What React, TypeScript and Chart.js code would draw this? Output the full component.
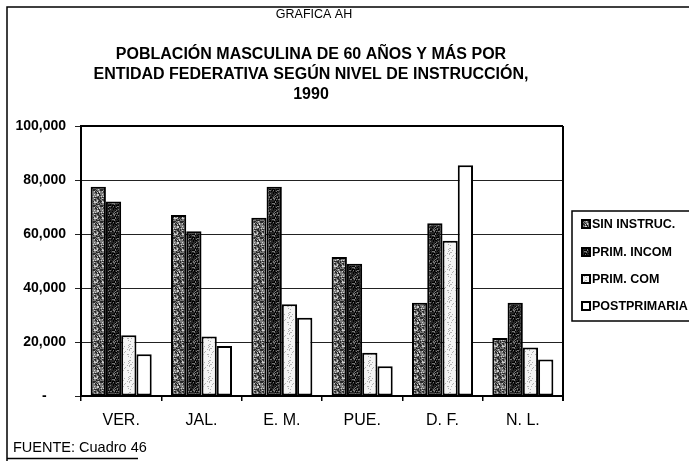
import { useEffect, useRef } from 'react';
import { Chart, registerables } from 'chart.js';
Chart.register(...registerables);

const categories = ['VER.', 'JAL.', 'E. M.', 'PUE.', 'D. F.', 'N. L.'];
const seriesLabels = ['SIN INSTRUC.', 'PRIM. INCOM', 'PRIM. COM', 'POSTPRIMARIA'];
const sinInstruc = [77500, 67000, 66000, 51500, 34500, 21500];
const primIncom = [72000, 61000, 77500, 49000, 64000, 34500];
const primCom = [22500, 22000, 34000, 16000, 57500, 18000];
const postprimaria = [15500, 18500, 29000, 11000, 85500, 13500];
const yMax = 100000;
const yStep = 20000;

const supTitle = 'GRAFICA AH';
const titleLines = [
  'POBLACIÓN MASCULINA DE 60 AÑOS Y MÁS POR',
  'ENTIDAD FEDERATIVA SEGÚN NIVEL DE INSTRUCCIÓN,',
  '1990',
];
const sourceNote = 'FUENTE: Cuadro 46';

const FONT = '"Liberation Sans", Arial, sans-serif';

function hash(x: number, y: number, s: number) {
  let h = (x * 374761393 + y * 668265263 + s * 2246822519) | 0;
  h = (h ^ (h >>> 13)) * 1274126177;
  h = h ^ (h >>> 16);
  return ((h >>> 0) % 1000) / 1000;
}

function makePattern(base: string, dots: { color: string; p: number }[], seed: number) {
  const c = document.createElement('canvas');
  c.width = 8;
  c.height = 16;
  const g = c.getContext('2d')!;
  g.fillStyle = base;
  g.fillRect(0, 0, 8, 16);
  for (let x = 0; x < 8; x++) {
    for (let y = 0; y < 16; y++) {
      const r = hash(x, y, seed);
      let acc = 0;
      for (const d of dots) {
        acc += d.p;
        if (r < acc) {
          g.fillStyle = d.color;
          g.fillRect(x, y, 1, 1);
          break;
        }
      }
    }
  }
  const ctx = document.createElement('canvas').getContext('2d')!;
  return ctx.createPattern(c, 'repeat')!;
}

export default function App() {
  const ref = useRef<HTMLCanvasElement>(null);
  useEffect(() => {
    document.body.style.margin = '0';
    const canvas = ref.current!;
    const fills = [
      makePattern('#7a7a7a', [{ color: '#2a2a2a', p: 0.32 }, { color: '#d0d0d0', p: 0.2 }], 3),
      makePattern('#262626', [{ color: '#777', p: 0.12 }, { color: '#000', p: 0.3 }], 7),
      makePattern('#f4f4f4', [{ color: '#b0b0b0', p: 0.15 }], 11),
      '#ffffff',
    ];
    const data = [sinInstruc, primIncom, primCom, postprimaria];

    const decor = {
      id: 'decor',
      beforeDraw(chart: any) {
        const ctx = chart.ctx;
        ctx.save();
        ctx.fillStyle = '#fff';
        ctx.fillRect(0, 0, chart.width, chart.height);
        ctx.strokeStyle = '#000';
        ctx.lineWidth = 1.5;
        ctx.beginPath();
        ctx.moveTo(7, 461);
        ctx.lineTo(7, 7);
        ctx.lineTo(689, 7);
        ctx.moveTo(7, 458.5);
        ctx.lineTo(138, 458.5);
        ctx.stroke();
        ctx.restore();
      },
      afterDraw(chart: any) {
        const ctx = chart.ctx;
        const a = chart.chartArea;
        ctx.save();
        ctx.fillStyle = '#000';
        ctx.textAlign = 'center';
        ctx.textBaseline = 'middle';
        ctx.font = `12.5px ${FONT}`;
        ctx.fillText(supTitle, 314, 15);
        ctx.font = `bold 16px ${FONT}`;
        titleLines.forEach((t, i) => ctx.fillText(t, 311, 55 + i * 20));
        ctx.textAlign = 'left';
        ctx.font = `14.5px ${FONT}`;
        ctx.fillText(sourceNote, 13, 448);
        // right & top border of plot
        ctx.strokeStyle = '#000';
        ctx.lineWidth = 2;
        ctx.beginPath();
        ctx.moveTo(a.right, a.top);
        ctx.lineTo(a.right, a.bottom + 5);
        ctx.moveTo(a.left, a.top);
        ctx.lineTo(a.right, a.top);
        ctx.stroke();
        // legend
        ctx.lineWidth = 1.5;
        ctx.strokeRect(572, 211, 130, 110);
        ctx.font = `bold 12.5px ${FONT}`;
        ctx.textBaseline = 'middle';
        const ys = [224, 252, 279, 306];
        seriesLabels.forEach((lab, i) => {
          const y = ys[i];
          ctx.fillStyle = fills[i] as any;
          ctx.fillRect(582, y - 4, 8, 8);
          ctx.lineWidth = 2;
          ctx.strokeStyle = '#000';
          ctx.strokeRect(582, y - 4, 8, 8);
          ctx.fillStyle = '#000';
          ctx.fillText(lab, 592, y + 0.5);
        });
        ctx.restore();
      },
    };

    const chart = new Chart(canvas, {
      type: 'bar',
      data: {
        labels: categories,
        datasets: seriesLabels.map((label, i) => ({
          label,
          data: data[i],
          backgroundColor: fills[i] as any,
          borderColor: '#000',
          borderWidth: 2,
          borderSkipped: false,
          categoryPercentage: 0.76,
          barPercentage: 1.0,
        })),
      },
      options: {
        responsive: false,
        animation: false,
        devicePixelRatio: 1,
        layout: { padding: { top: 126, left: 7, right: 126, bottom: 0 } },
        plugins: {
          legend: { display: false },
          title: { display: false },
          tooltip: { enabled: false },
        },
        scales: {
          x: {
            offset: true,
            grid: {
              offset: true,
              drawOnChartArea: false,
              drawTicks: true,
              tickLength: 5,
              color: '#000',
              lineWidth: 1.5,
            },
            border: { display: true, color: '#000', width: 2 },
            ticks: {
              color: '#000',
              font: { family: FONT, size: 16 },
              padding: 10,
              maxRotation: 0,
            },
            afterFit(scale: any) {
              scale.height = 65;
            },
          },
          y: {
            min: 0,
            max: yMax,
            grid: {
              color: '#222',
              lineWidth: 1,
              tickLength: 6,
              drawTicks: true,
            },
            border: { display: true, color: '#000', width: 2 },
            ticks: {
              stepSize: yStep,
              color: '#000',
              padding: 9,
              font: { family: FONT, size: 14, weight: 'bold' },
              callback: (v: any) => (Number(v) === 0 ? '-     ' : Number(v).toLocaleString('en-US')),
            },
            afterFit(scale: any) {
              scale.width = 74;
            },
          },
        },
      },
      plugins: [decor],
    } as any);
    return () => chart.destroy();
  }, []);
  return (
    <div style={{ width: 689, height: 461 }}>
      <canvas ref={ref} width={689} height={461} style={{ display: 'block' }} />
    </div>
  );
}
